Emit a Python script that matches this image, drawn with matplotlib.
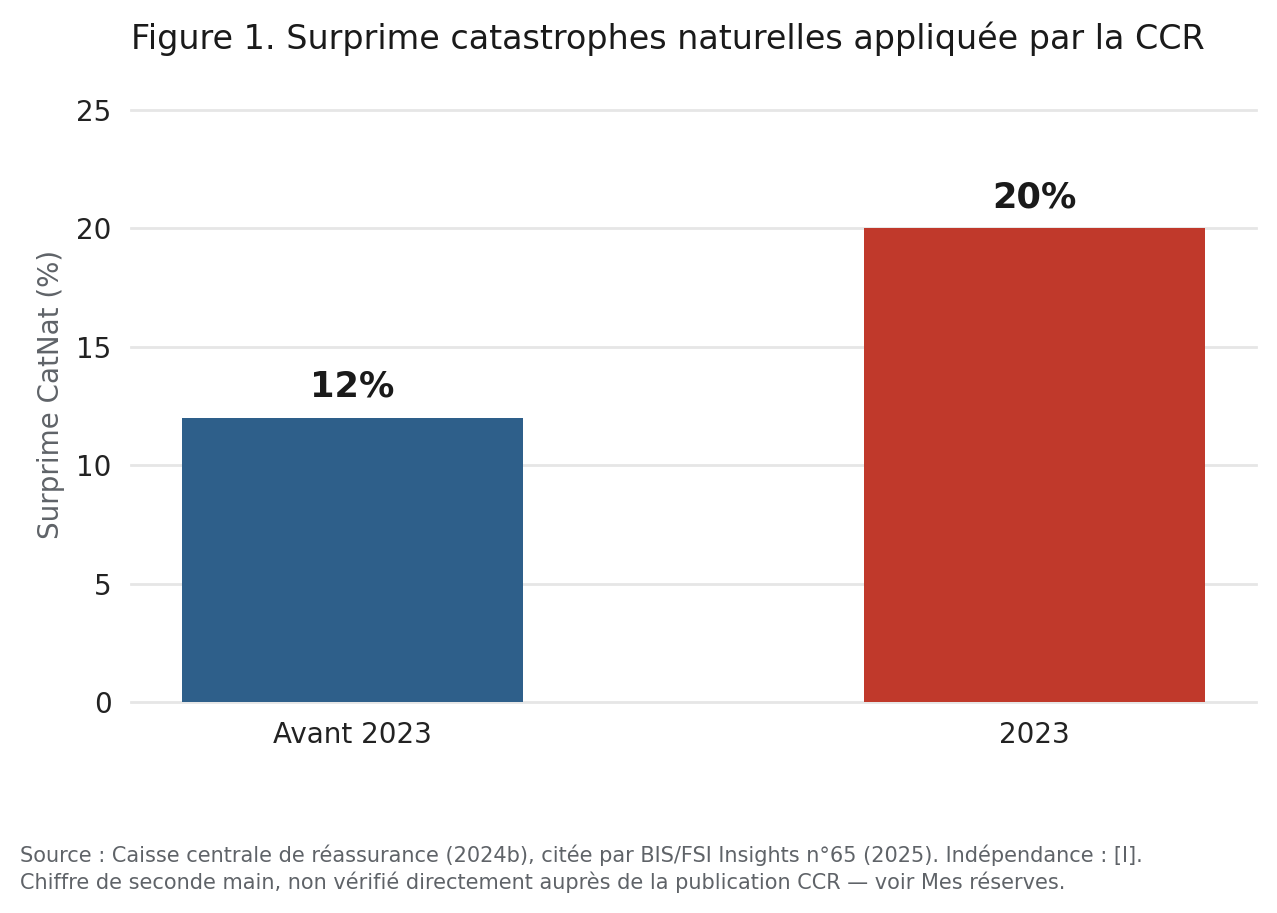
import matplotlib
matplotlib.use('Agg')
import matplotlib.pyplot as plt

categories = ['Avant 2023', '2023']
values = [12, 20]
bar_colors = ['#2e5f8a', '#c0392b']

plt.rcParams['font.family'] = ['DejaVu Sans']

fig = plt.figure(figsize=(12.77 / 2, 9.13 / 2), dpi=200)
ax = fig.add_axes([0.1026, 0.2311, 0.881, 0.6744])

x = list(range(len(categories)))
bars = ax.bar(x, values, width=0.5, color=bar_colors, zorder=3)

for xi, v in zip(x, values):
    ax.annotate(f'{v}%', (xi, v), xytext=(0, 5), textcoords='offset points',
                ha='center', va='bottom', fontsize=12.7, fontweight='bold',
                color='#1a1a1a')

ax.set_xticks(x)
ax.set_xticklabels(categories)
ax.set_ylim(0, 26)
ax.set_yticks([0, 5, 10, 15, 20, 25])
ax.yaxis.grid(True, color='#e6e6e6', linewidth=1.0, zorder=0)
for line in ax.get_ygridlines():
    line.set_clip_on(False)
ax.set_axisbelow(True)
for s in ax.spines.values():
    s.set_visible(False)
ax.tick_params(length=0, pad=7, labelsize=10, colors='#222222')
ax.set_ylabel('Surprime CatNat (%)', fontsize=10, color='#5f6368')

ax.set_title('Figure 1. Surprime catastrophes naturelles appliquée par la CCR',
             loc='left', fontsize=12, color='#1a1a1a', pad=13.5)

fig.text(20 / 1277, 0.022,
         'Source : Caisse centrale de réassurance (2024b), citée par BIS/FSI Insights n°65 (2025). Indépendance : [I].\n'
         'Chiffre de seconde main, non vérifié directement auprès de la publication CCR — voir Mes réserves.',
         fontsize=7.5, color='#5f6368', ha='left', va='bottom', linespacing=1.3)

fig.savefig('out.png', dpi=200)
